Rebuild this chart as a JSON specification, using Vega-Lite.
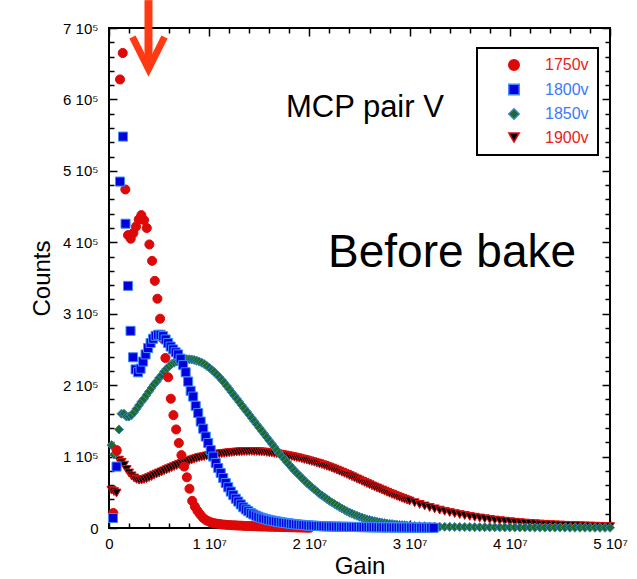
{
"$schema":"https://vega.github.io/schema/vega-lite/v6.json",
"width":501,"height":500,
"autosize":"none",
"padding":{"left":109,"top":28,"right":27,"bottom":51},
"background":"white",
"data":{"values":[
{"s":"1900v","g":0.25e6,"c":53e3},{"s":"1900v","g":0.5e6,"c":51e3},{"s":"1900v","g":0.75e6,"c":49e3},{"s":"1900v","g":1e6,"c":95e3},{"s":"1900v","g":1.25e6,"c":92e3},{"s":"1900v","g":1.5e6,"c":88e3},{"s":"1900v","g":1.75e6,"c":82e3},{"s":"1900v","g":2e6,"c":77e3},{"s":"1900v","g":2.25e6,"c":73e3},{"s":"1900v","g":2.5e6,"c":70e3},{"s":"1900v","g":2.75e6,"c":68e3},{"s":"1900v","g":3e6,"c":67e3},{"s":"1900v","g":3.25e6,"c":67e3},{"s":"1900v","g":3.5e6,"c":68e3},{"s":"1900v","g":3.75e6,"c":69e3},{"s":"1900v","g":4e6,"c":70.5e3},{"s":"1900v","g":4.25e6,"c":72e3},{"s":"1900v","g":4.5e6,"c":74e3},{"s":"1900v","g":4.75e6,"c":75.5e3},{"s":"1900v","g":5e6,"c":77e3},{"s":"1900v","g":5.25e6,"c":78.5e3},{"s":"1900v","g":5.5e6,"c":80e3},{"s":"1900v","g":5.75e6,"c":81.5e3},{"s":"1900v","g":6e6,"c":83e3},{"s":"1900v","g":6.25e6,"c":84.5e3},{"s":"1900v","g":6.5e6,"c":86e3},{"s":"1900v","g":6.75e6,"c":87.5e3},{"s":"1900v","g":7e6,"c":89e3},{"s":"1900v","g":7.25e6,"c":90.3e3},{"s":"1900v","g":7.5e6,"c":91.5e3},{"s":"1900v","g":7.75e6,"c":92.7e3},{"s":"1900v","g":8e6,"c":94e3},{"s":"1900v","g":8.25e6,"c":95.2e3},{"s":"1900v","g":8.5e6,"c":96.4e3},{"s":"1900v","g":8.75e6,"c":97.5e3},{"s":"1900v","g":9e6,"c":98.5e3},{"s":"1900v","g":9.25e6,"c":99.3e3},{"s":"1900v","g":9.5e6,"c":100e3},{"s":"1900v","g":9.75e6,"c":100.8e3},{"s":"1900v","g":10e6,"c":101.5e3},{"s":"1900v","g":10.25e6,"c":102.1e3},{"s":"1900v","g":10.5e6,"c":102.7e3},{"s":"1900v","g":10.75e6,"c":103.2e3},{"s":"1900v","g":11e6,"c":103.7e3},{"s":"1900v","g":11.25e6,"c":104.1e3},{"s":"1900v","g":11.5e6,"c":104.5e3},{"s":"1900v","g":11.75e6,"c":104.9e3},{"s":"1900v","g":12e6,"c":105.3e3},{"s":"1900v","g":12.25e6,"c":105.7e3},{"s":"1900v","g":12.5e6,"c":106e3},{"s":"1900v","g":12.75e6,"c":106.3e3},{"s":"1900v","g":13e6,"c":106.6e3},{"s":"1900v","g":13.25e6,"c":106.8e3},{"s":"1900v","g":13.5e6,"c":107e3},{"s":"1900v","g":13.75e6,"c":107.1e3},{"s":"1900v","g":14e6,"c":107.2e3},{"s":"1900v","g":14.25e6,"c":107.2e3},{"s":"1900v","g":14.5e6,"c":107.1e3},{"s":"1900v","g":14.75e6,"c":107e3},{"s":"1900v","g":15e6,"c":106.8e3},{"s":"1900v","g":15.25e6,"c":106.5e3},{"s":"1900v","g":15.5e6,"c":106.2e3},{"s":"1900v","g":15.75e6,"c":105.8e3},{"s":"1900v","g":16e6,"c":105.4e3},{"s":"1900v","g":16.25e6,"c":105e3},{"s":"1900v","g":16.5e6,"c":104.5e3},{"s":"1900v","g":16.75e6,"c":104e3},{"s":"1900v","g":17e6,"c":103.4e3},{"s":"1900v","g":17.25e6,"c":102.8e3},{"s":"1900v","g":17.5e6,"c":102.2e3},{"s":"1900v","g":17.75e6,"c":101.5e3},{"s":"1900v","g":18e6,"c":100.8e3},{"s":"1900v","g":18.25e6,"c":100.1e3},{"s":"1900v","g":18.5e6,"c":99.3e3},{"s":"1900v","g":18.75e6,"c":98.5e3},{"s":"1900v","g":19e6,"c":97.7e3},{"s":"1900v","g":19.25e6,"c":96.8e3},{"s":"1900v","g":19.5e6,"c":95.9e3},{"s":"1900v","g":19.75e6,"c":95e3},{"s":"1900v","g":20e6,"c":94e3},{"s":"1900v","g":20.25e6,"c":93e3},{"s":"1900v","g":20.5e6,"c":92e3},{"s":"1900v","g":20.75e6,"c":91e3},{"s":"1900v","g":21e6,"c":89.9e3},{"s":"1900v","g":21.25e6,"c":88.8e3},{"s":"1900v","g":21.5e6,"c":87.6e3},{"s":"1900v","g":21.75e6,"c":86.4e3},{"s":"1900v","g":22e6,"c":85.1e3},{"s":"1900v","g":22.25e6,"c":83.8e3},{"s":"1900v","g":22.5e6,"c":82.4e3},{"s":"1900v","g":22.75e6,"c":81e3},{"s":"1900v","g":23e6,"c":79.5e3},{"s":"1900v","g":23.25e6,"c":78e3},{"s":"1900v","g":23.5e6,"c":76.5e3},{"s":"1900v","g":23.75e6,"c":75e3},{"s":"1900v","g":24e6,"c":73.4e3},{"s":"1900v","g":24.25e6,"c":71.8e3},{"s":"1900v","g":24.5e6,"c":70.2e3},{"s":"1900v","g":24.75e6,"c":68.6e3},{"s":"1900v","g":25e6,"c":67e3},{"s":"1900v","g":25.25e6,"c":65.4e3},{"s":"1900v","g":25.5e6,"c":63.8e3},{"s":"1900v","g":25.75e6,"c":62.2e3},{"s":"1900v","g":26e6,"c":60.6e3},{"s":"1900v","g":26.25e6,"c":59e3},{"s":"1900v","g":26.5e6,"c":57.5e3},{"s":"1900v","g":26.75e6,"c":56e3},{"s":"1900v","g":27e6,"c":54.5e3},{"s":"1900v","g":27.25e6,"c":53e3},{"s":"1900v","g":27.5e6,"c":51.5e3},{"s":"1900v","g":27.75e6,"c":50e3},{"s":"1900v","g":28e6,"c":48.5e3},{"s":"1900v","g":28.25e6,"c":47.1e3},{"s":"1900v","g":28.5e6,"c":45.7e3},{"s":"1900v","g":28.75e6,"c":44.3e3},{"s":"1900v","g":29e6,"c":42.9e3},{"s":"1900v","g":29.25e6,"c":41.6e3},{"s":"1900v","g":29.5e6,"c":40.3e3},{"s":"1900v","g":29.75e6,"c":39e3},{"s":"1900v","g":30e6,"c":37.7e3},{"s":"1900v","g":30.5e6,"c":35.3e3},{"s":"1900v","g":31e6,"c":33e3},{"s":"1900v","g":31.5e6,"c":30.8e3},{"s":"1900v","g":32e6,"c":28.7e3},{"s":"1900v","g":32.5e6,"c":26.8e3},{"s":"1900v","g":33e6,"c":25e3},{"s":"1900v","g":33.5e6,"c":23.3e3},{"s":"1900v","g":34e6,"c":21.7e3},{"s":"1900v","g":34.5e6,"c":20.2e3},{"s":"1900v","g":35e6,"c":18.8e3},{"s":"1900v","g":35.5e6,"c":17.5e3},{"s":"1900v","g":36e6,"c":16.3e3},{"s":"1900v","g":36.5e6,"c":15.1e3},{"s":"1900v","g":37e6,"c":14e3},{"s":"1900v","g":37.5e6,"c":13e3},{"s":"1900v","g":38e6,"c":12e3},{"s":"1900v","g":38.5e6,"c":11.1e3},{"s":"1900v","g":39e6,"c":10.3e3},{"s":"1900v","g":39.5e6,"c":9.5e3},{"s":"1900v","g":40e6,"c":8.8e3},{"s":"1900v","g":40.5e6,"c":8.1e3},{"s":"1900v","g":41e6,"c":7.5e3},{"s":"1900v","g":41.5e6,"c":6.9e3},{"s":"1900v","g":42e6,"c":6.4e3},{"s":"1900v","g":42.5e6,"c":5.9e3},{"s":"1900v","g":43e6,"c":5.5e3},{"s":"1900v","g":43.5e6,"c":5.1e3},{"s":"1900v","g":44e6,"c":4.7e3},{"s":"1900v","g":44.5e6,"c":4.4e3},{"s":"1900v","g":45e6,"c":4.1e3},{"s":"1900v","g":45.5e6,"c":3.8e3},{"s":"1900v","g":46e6,"c":3.5e3},{"s":"1900v","g":46.5e6,"c":3.3e3},{"s":"1900v","g":47e6,"c":3.1e3},{"s":"1900v","g":47.5e6,"c":2.9e3},{"s":"1900v","g":48e6,"c":2.7e3},{"s":"1900v","g":48.5e6,"c":2.5e3},{"s":"1900v","g":49e6,"c":2.3e3},{"s":"1900v","g":49.5e6,"c":2.1e3},{"s":"1900v","g":50e6,"c":2e3},
{"s":"1850v","g":0.25e6,"c":116e3},{"s":"1850v","g":0.5e6,"c":103e3},{"s":"1850v","g":0.75e6,"c":105e3},{"s":"1850v","g":1e6,"c":138e3},{"s":"1850v","g":1.25e6,"c":160e3},{"s":"1850v","g":1.5e6,"c":160e3},{"s":"1850v","g":1.75e6,"c":156e3},{"s":"1850v","g":2e6,"c":156e3},{"s":"1850v","g":2.25e6,"c":158e3},{"s":"1850v","g":2.5e6,"c":162e3},{"s":"1850v","g":2.75e6,"c":167e3},{"s":"1850v","g":3e6,"c":172e3},{"s":"1850v","g":3.25e6,"c":177e3},{"s":"1850v","g":3.5e6,"c":181e3},{"s":"1850v","g":3.75e6,"c":186e3},{"s":"1850v","g":4e6,"c":191e3},{"s":"1850v","g":4.25e6,"c":196e3},{"s":"1850v","g":4.5e6,"c":201e3},{"s":"1850v","g":4.75e6,"c":205e3},{"s":"1850v","g":5e6,"c":210e3},{"s":"1850v","g":5.25e6,"c":214e3},{"s":"1850v","g":5.5e6,"c":219e3},{"s":"1850v","g":5.75e6,"c":223e3},{"s":"1850v","g":6e6,"c":226.5e3},{"s":"1850v","g":6.25e6,"c":229.5e3},{"s":"1850v","g":6.5e6,"c":231.5e3},{"s":"1850v","g":6.75e6,"c":233e3},{"s":"1850v","g":7e6,"c":234.5e3},{"s":"1850v","g":7.25e6,"c":235.5e3},{"s":"1850v","g":7.5e6,"c":236e3},{"s":"1850v","g":7.75e6,"c":236.3e3},{"s":"1850v","g":8e6,"c":236.3e3},{"s":"1850v","g":8.25e6,"c":236e3},{"s":"1850v","g":8.5e6,"c":235.3e3},{"s":"1850v","g":8.75e6,"c":234.3e3},{"s":"1850v","g":9e6,"c":233e3},{"s":"1850v","g":9.25e6,"c":231.5e3},{"s":"1850v","g":9.5e6,"c":229.5e3},{"s":"1850v","g":9.75e6,"c":227e3},{"s":"1850v","g":10e6,"c":224.5e3},{"s":"1850v","g":10.25e6,"c":221.5e3},{"s":"1850v","g":10.5e6,"c":218.5e3},{"s":"1850v","g":10.75e6,"c":215e3},{"s":"1850v","g":11e6,"c":211.5e3},{"s":"1850v","g":11.25e6,"c":207.5e3},{"s":"1850v","g":11.5e6,"c":203.5e3},{"s":"1850v","g":11.75e6,"c":199e3},{"s":"1850v","g":12e6,"c":194.5e3},{"s":"1850v","g":12.25e6,"c":190e3},{"s":"1850v","g":12.5e6,"c":185.5e3},{"s":"1850v","g":12.75e6,"c":181e3},{"s":"1850v","g":13e6,"c":176.5e3},{"s":"1850v","g":13.25e6,"c":172e3},{"s":"1850v","g":13.5e6,"c":167.5e3},{"s":"1850v","g":13.75e6,"c":163e3},{"s":"1850v","g":14e6,"c":158.5e3},{"s":"1850v","g":14.25e6,"c":154e3},{"s":"1850v","g":14.5e6,"c":149.5e3},{"s":"1850v","g":14.75e6,"c":145e3},{"s":"1850v","g":15e6,"c":140.5e3},{"s":"1850v","g":15.25e6,"c":136e3},{"s":"1850v","g":15.5e6,"c":131.5e3},{"s":"1850v","g":15.75e6,"c":127e3},{"s":"1850v","g":16e6,"c":122.5e3},{"s":"1850v","g":16.25e6,"c":118e3},{"s":"1850v","g":16.5e6,"c":113.5e3},{"s":"1850v","g":16.75e6,"c":109e3},{"s":"1850v","g":17e6,"c":104.5e3},{"s":"1850v","g":17.25e6,"c":100.5e3},{"s":"1850v","g":17.5e6,"c":96.5e3},{"s":"1850v","g":17.75e6,"c":92.5e3},{"s":"1850v","g":18e6,"c":88.5e3},{"s":"1850v","g":18.25e6,"c":84.5e3},{"s":"1850v","g":18.5e6,"c":80.5e3},{"s":"1850v","g":18.75e6,"c":77e3},{"s":"1850v","g":19e6,"c":73.5e3},{"s":"1850v","g":19.25e6,"c":70e3},{"s":"1850v","g":19.5e6,"c":66.5e3},{"s":"1850v","g":19.75e6,"c":63e3},{"s":"1850v","g":20e6,"c":60e3},{"s":"1850v","g":20.25e6,"c":57e3},{"s":"1850v","g":20.5e6,"c":54e3},{"s":"1850v","g":20.75e6,"c":51e3},{"s":"1850v","g":21e6,"c":48e3},{"s":"1850v","g":21.25e6,"c":45.5e3},{"s":"1850v","g":21.5e6,"c":43e3},{"s":"1850v","g":21.75e6,"c":40.5e3},{"s":"1850v","g":22e6,"c":38e3},{"s":"1850v","g":22.25e6,"c":35.8e3},{"s":"1850v","g":22.5e6,"c":33.6e3},{"s":"1850v","g":22.75e6,"c":31.4e3},{"s":"1850v","g":23e6,"c":29.3e3},{"s":"1850v","g":23.25e6,"c":27.3e3},{"s":"1850v","g":23.5e6,"c":25.3e3},{"s":"1850v","g":23.75e6,"c":23.5e3},{"s":"1850v","g":24e6,"c":21.7e3},{"s":"1850v","g":24.25e6,"c":20.1e3},{"s":"1850v","g":24.5e6,"c":18.5e3},{"s":"1850v","g":24.75e6,"c":17.1e3},{"s":"1850v","g":25e6,"c":15.7e3},{"s":"1850v","g":25.25e6,"c":14.5e3},{"s":"1850v","g":25.5e6,"c":13.3e3},{"s":"1850v","g":25.75e6,"c":12.2e3},{"s":"1850v","g":26e6,"c":11.2e3},{"s":"1850v","g":26.25e6,"c":10.3e3},{"s":"1850v","g":26.5e6,"c":9.5e3},{"s":"1850v","g":26.75e6,"c":8.7e3},{"s":"1850v","g":27e6,"c":8e3},{"s":"1850v","g":27.25e6,"c":7.4e3},{"s":"1850v","g":27.5e6,"c":6.8e3},{"s":"1850v","g":27.75e6,"c":6.3e3},{"s":"1850v","g":28e6,"c":5.8e3},{"s":"1850v","g":28.25e6,"c":5.4e3},{"s":"1850v","g":28.5e6,"c":5e3},{"s":"1850v","g":28.75e6,"c":4.6e3},{"s":"1850v","g":29e6,"c":4.3e3},{"s":"1850v","g":29.25e6,"c":4e3},{"s":"1850v","g":29.5e6,"c":3.7e3},{"s":"1850v","g":29.75e6,"c":3.5e3},{"s":"1850v","g":30e6,"c":3.2e3},{"s":"1850v","g":30.5e6,"c":2.9e3},{"s":"1850v","g":31e6,"c":2.6e3},{"s":"1850v","g":31.5e6,"c":2.3e3},{"s":"1850v","g":32e6,"c":2.1e3},{"s":"1850v","g":32.5e6,"c":1.9e3},{"s":"1850v","g":33e6,"c":1.8e3},{"s":"1850v","g":33.5e6,"c":1.7e3},{"s":"1850v","g":34e6,"c":1.6e3},{"s":"1850v","g":34.5e6,"c":1.5e3},{"s":"1850v","g":35e6,"c":1.4e3},{"s":"1850v","g":35.5e6,"c":1.3e3},{"s":"1850v","g":36e6,"c":1.25e3},{"s":"1850v","g":36.5e6,"c":1.2e3},{"s":"1850v","g":37e6,"c":1.15e3},{"s":"1850v","g":37.5e6,"c":1.1e3},{"s":"1850v","g":38e6,"c":1.05e3},{"s":"1850v","g":38.5e6,"c":1e3},{"s":"1850v","g":39e6,"c":950},{"s":"1850v","g":39.5e6,"c":900},{"s":"1850v","g":40e6,"c":900},{"s":"1850v","g":40.5e6,"c":850},{"s":"1850v","g":41e6,"c":800},{"s":"1850v","g":41.5e6,"c":800},{"s":"1850v","g":42e6,"c":750},{"s":"1850v","g":42.5e6,"c":700},{"s":"1850v","g":43e6,"c":700},{"s":"1850v","g":43.5e6,"c":650},{"s":"1850v","g":44e6,"c":650},{"s":"1850v","g":44.5e6,"c":600},{"s":"1850v","g":45e6,"c":600},{"s":"1850v","g":45.5e6,"c":550},{"s":"1850v","g":46e6,"c":550},{"s":"1850v","g":46.5e6,"c":500},{"s":"1850v","g":47e6,"c":500},{"s":"1850v","g":47.5e6,"c":500},{"s":"1850v","g":48e6,"c":450},{"s":"1850v","g":48.5e6,"c":450},{"s":"1850v","g":49e6,"c":400},{"s":"1850v","g":49.5e6,"c":400},{"s":"1850v","g":50e6,"c":400},
{"s":"1750v","g":0.43e6,"c":21e3},{"s":"1750v","g":0.77e6,"c":109e3},{"s":"1750v","g":1.1e6,"c":628e3},{"s":"1750v","g":1.37e6,"c":665e3},{"s":"1750v","g":1.63e6,"c":474e3},{"s":"1750v","g":1.9e6,"c":410e3},{"s":"1750v","g":2.17e6,"c":405e3},{"s":"1750v","g":2.43e6,"c":413e3},{"s":"1750v","g":2.7e6,"c":422e3},{"s":"1750v","g":2.97e6,"c":432e3},{"s":"1750v","g":3.23e6,"c":438e3},{"s":"1750v","g":3.5e6,"c":431e3},{"s":"1750v","g":3.77e6,"c":420e3},{"s":"1750v","g":4.03e6,"c":397e3},{"s":"1750v","g":4.3e6,"c":374e3},{"s":"1750v","g":4.57e6,"c":346e3},{"s":"1750v","g":4.83e6,"c":321e3},{"s":"1750v","g":5.1e6,"c":293e3},{"s":"1750v","g":5.37e6,"c":265e3},{"s":"1750v","g":5.63e6,"c":238e3},{"s":"1750v","g":5.9e6,"c":211e3},{"s":"1750v","g":6.17e6,"c":181e3},{"s":"1750v","g":6.43e6,"c":158e3},{"s":"1750v","g":6.7e6,"c":138e3},{"s":"1750v","g":6.97e6,"c":119e3},{"s":"1750v","g":7.23e6,"c":102e3},{"s":"1750v","g":7.5e6,"c":86e3},{"s":"1750v","g":7.77e6,"c":71e3},{"s":"1750v","g":8.03e6,"c":55e3},{"s":"1750v","g":8.3e6,"c":38e3},{"s":"1750v","g":8.57e6,"c":30e3},{"s":"1750v","g":8.83e6,"c":24e3},{"s":"1750v","g":9.1e6,"c":19e3},{"s":"1750v","g":9.37e6,"c":14.5e3},{"s":"1750v","g":9.63e6,"c":11.5e3},{"s":"1750v","g":9.9e6,"c":9.5e3},{"s":"1750v","g":10.17e6,"c":8e3},{"s":"1750v","g":10.43e6,"c":7e3},{"s":"1750v","g":10.7e6,"c":6.2e3},{"s":"1750v","g":10.97e6,"c":5.6e3},{"s":"1750v","g":11.23e6,"c":5.1e3},{"s":"1750v","g":11.5e6,"c":4.7e3},{"s":"1750v","g":11.77e6,"c":4.4e3},{"s":"1750v","g":12.03e6,"c":4.1e3},{"s":"1750v","g":12.3e6,"c":3.9e3},{"s":"1750v","g":12.57e6,"c":3.7e3},{"s":"1750v","g":12.83e6,"c":3.5e3},{"s":"1750v","g":13.1e6,"c":3.3e3},{"s":"1750v","g":13.37e6,"c":3.1e3},{"s":"1750v","g":13.63e6,"c":2.9e3},{"s":"1750v","g":13.9e6,"c":2.8e3},{"s":"1750v","g":14.17e6,"c":2.6e3},{"s":"1750v","g":14.43e6,"c":2.5e3},{"s":"1750v","g":14.7e6,"c":2.4e3},{"s":"1750v","g":14.97e6,"c":2.2e3},{"s":"1750v","g":15.23e6,"c":2.1e3},{"s":"1750v","g":15.5e6,"c":2e3},{"s":"1750v","g":15.77e6,"c":1.9e3},{"s":"1750v","g":16.03e6,"c":1.8e3},{"s":"1750v","g":16.3e6,"c":1.7e3},{"s":"1750v","g":16.57e6,"c":1.6e3},{"s":"1750v","g":16.83e6,"c":1.5e3},{"s":"1750v","g":17.1e6,"c":1.4e3},{"s":"1750v","g":17.37e6,"c":1.3e3},{"s":"1750v","g":17.63e6,"c":1.2e3},{"s":"1750v","g":17.9e6,"c":1.1e3},{"s":"1750v","g":18.17e6,"c":1e3},{"s":"1750v","g":18.43e6,"c":900},{"s":"1750v","g":18.7e6,"c":800},{"s":"1750v","g":18.97e6,"c":700},{"s":"1750v","g":19.23e6,"c":600},{"s":"1750v","g":19.5e6,"c":500},{"s":"1750v","g":19.77e6,"c":400},{"s":"1750v","g":20.03e6,"c":300},
{"s":"1800v","g":0.4e6,"c":14e3},{"s":"1800v","g":0.75e6,"c":86e3},{"s":"1800v","g":1.1e6,"c":485e3},{"s":"1800v","g":1.4e6,"c":548e3},{"s":"1800v","g":1.65e6,"c":426e3},{"s":"1800v","g":1.9e6,"c":339e3},{"s":"1800v","g":2.15e6,"c":276e3},{"s":"1800v","g":2.4e6,"c":239e3},{"s":"1800v","g":2.65e6,"c":222e3},{"s":"1800v","g":2.9e6,"c":218e3},{"s":"1800v","g":3.15e6,"c":223e3},{"s":"1800v","g":3.4e6,"c":233e3},{"s":"1800v","g":3.65e6,"c":243e3},{"s":"1800v","g":3.9e6,"c":252e3},{"s":"1800v","g":4.15e6,"c":259e3},{"s":"1800v","g":4.4e6,"c":265e3},{"s":"1800v","g":4.65e6,"c":269e3},{"s":"1800v","g":4.9e6,"c":270.5e3},{"s":"1800v","g":5.15e6,"c":270.5e3},{"s":"1800v","g":5.4e6,"c":268.5e3},{"s":"1800v","g":5.65e6,"c":264e3},{"s":"1800v","g":5.9e6,"c":259e3},{"s":"1800v","g":6.15e6,"c":254e3},{"s":"1800v","g":6.4e6,"c":250e3},{"s":"1800v","g":6.65e6,"c":246e3},{"s":"1800v","g":6.9e6,"c":243e3},{"s":"1800v","g":7.15e6,"c":237e3},{"s":"1800v","g":7.4e6,"c":228e3},{"s":"1800v","g":7.65e6,"c":218e3},{"s":"1800v","g":7.9e6,"c":205e3},{"s":"1800v","g":8.15e6,"c":192e3},{"s":"1800v","g":8.4e6,"c":184e3},{"s":"1800v","g":8.65e6,"c":171e3},{"s":"1800v","g":8.9e6,"c":161e3},{"s":"1800v","g":9.15e6,"c":149e3},{"s":"1800v","g":9.4e6,"c":139e3},{"s":"1800v","g":9.65e6,"c":128e3},{"s":"1800v","g":9.9e6,"c":119e3},{"s":"1800v","g":10.15e6,"c":109e3},{"s":"1800v","g":10.4e6,"c":100e3},{"s":"1800v","g":10.65e6,"c":91e3},{"s":"1800v","g":10.9e6,"c":84e3},{"s":"1800v","g":11.15e6,"c":77e3},{"s":"1800v","g":11.4e6,"c":70e3},{"s":"1800v","g":11.65e6,"c":63e3},{"s":"1800v","g":11.9e6,"c":57e3},{"s":"1800v","g":12.15e6,"c":51e3},{"s":"1800v","g":12.4e6,"c":46e3},{"s":"1800v","g":12.65e6,"c":41e3},{"s":"1800v","g":12.9e6,"c":37e3},{"s":"1800v","g":13.15e6,"c":33e3},{"s":"1800v","g":13.4e6,"c":29e3},{"s":"1800v","g":13.65e6,"c":26e3},{"s":"1800v","g":13.9e6,"c":23.5e3},{"s":"1800v","g":14.15e6,"c":21e3},{"s":"1800v","g":14.4e6,"c":19e3},{"s":"1800v","g":14.65e6,"c":17.3e3},{"s":"1800v","g":14.9e6,"c":15.8e3},{"s":"1800v","g":15.15e6,"c":14.5e3},{"s":"1800v","g":15.4e6,"c":13.4e3},{"s":"1800v","g":15.65e6,"c":12.4e3},{"s":"1800v","g":15.9e6,"c":11.5e3},{"s":"1800v","g":16.15e6,"c":10.7e3},{"s":"1800v","g":16.4e6,"c":10e3},{"s":"1800v","g":16.65e6,"c":9.3e3},{"s":"1800v","g":16.9e6,"c":8.7e3},{"s":"1800v","g":17.15e6,"c":8.1e3},{"s":"1800v","g":17.4e6,"c":7.5e3},{"s":"1800v","g":17.65e6,"c":7e3},{"s":"1800v","g":17.9e6,"c":6.5e3},{"s":"1800v","g":18.15e6,"c":6e3},{"s":"1800v","g":18.4e6,"c":5.6e3},{"s":"1800v","g":18.65e6,"c":5.2e3},{"s":"1800v","g":18.9e6,"c":4.8e3},{"s":"1800v","g":19.15e6,"c":4.5e3},{"s":"1800v","g":19.4e6,"c":4.2e3},{"s":"1800v","g":19.65e6,"c":3.9e3},{"s":"1800v","g":19.9e6,"c":3.6e3},{"s":"1800v","g":20.15e6,"c":3.4e3},{"s":"1800v","g":20.4e6,"c":3.2e3},{"s":"1800v","g":20.65e6,"c":3e3},{"s":"1800v","g":20.9e6,"c":2.8e3},{"s":"1800v","g":21.15e6,"c":2.6e3},{"s":"1800v","g":21.4e6,"c":2.5e3},{"s":"1800v","g":21.65e6,"c":2.3e3},{"s":"1800v","g":21.9e6,"c":2.2e3},{"s":"1800v","g":22.15e6,"c":2.1e3},{"s":"1800v","g":22.4e6,"c":2e3},{"s":"1800v","g":22.65e6,"c":1.9e3},{"s":"1800v","g":22.9e6,"c":1.8e3},{"s":"1800v","g":23.15e6,"c":1.7e3},{"s":"1800v","g":23.4e6,"c":1.65e3},{"s":"1800v","g":23.65e6,"c":1.6e3},{"s":"1800v","g":23.9e6,"c":1.55e3},{"s":"1800v","g":24.15e6,"c":1.5e3},{"s":"1800v","g":24.4e6,"c":1.45e3},{"s":"1800v","g":24.65e6,"c":1.4e3},{"s":"1800v","g":24.9e6,"c":1.35e3},{"s":"1800v","g":25.15e6,"c":1.3e3},{"s":"1800v","g":25.4e6,"c":1.25e3},{"s":"1800v","g":25.65e6,"c":1.2e3},{"s":"1800v","g":25.9e6,"c":1.15e3},{"s":"1800v","g":26.15e6,"c":1.1e3},{"s":"1800v","g":26.4e6,"c":1.05e3},{"s":"1800v","g":26.65e6,"c":1e3},{"s":"1800v","g":26.9e6,"c":950},{"s":"1800v","g":27.15e6,"c":900},{"s":"1800v","g":27.4e6,"c":850},{"s":"1800v","g":27.65e6,"c":800},{"s":"1800v","g":27.9e6,"c":780},{"s":"1800v","g":28.15e6,"c":750},{"s":"1800v","g":28.4e6,"c":720},{"s":"1800v","g":28.65e6,"c":700},{"s":"1800v","g":28.9e6,"c":680},{"s":"1800v","g":29.15e6,"c":650},{"s":"1800v","g":29.4e6,"c":620},{"s":"1800v","g":29.65e6,"c":600},{"s":"1800v","g":29.9e6,"c":580},{"s":"1800v","g":30.15e6,"c":550},{"s":"1800v","g":30.4e6,"c":520},{"s":"1800v","g":30.65e6,"c":500},{"s":"1800v","g":30.9e6,"c":480},{"s":"1800v","g":31.15e6,"c":450},{"s":"1800v","g":31.4e6,"c":420},{"s":"1800v","g":31.65e6,"c":400},{"s":"1800v","g":31.9e6,"c":380},{"s":"1800v","g":32.15e6,"c":350},{"s":"1800v","g":32.4e6,"c":320}
]},
"resolve":{"axis":{"x":"independent","y":"independent"}},
"layer":[
{
 "mark":{"type":"point","filled":true,"opacity":1,"size":82,"strokeWidth":1},
 "encoding":{
  "x":{"field":"g","type":"quantitative","scale":{"domain":[0,50000000],"nice":false,"zero":false},
       "axis":{"orient":"bottom","values":[0,10000000,20000000,30000000,40000000,50000000],"offset":-8,"tickSize":8,"labelPadding":8,"labelFontSize":15,
               "labelExpr":"datum.value == 0 ? '0' : (datum.value/1e7) + ' 10⁷'","title":"Gain","titleFontSize":24,"titlePadding":3}},
  "y":{"field":"c","type":"quantitative","scale":{"domain":[0,700000],"nice":false,"zero":false},
       "axis":{"orient":"left","values":[0,100000,200000,300000,400000,500000,600000,700000],"offset":-8,"tickSize":8,"labelPadding":11,"labelFontSize":15,
               "labelExpr":"datum.value == 0 ? '0' : (datum.value/1e5) + ' 10⁵'","title":"Counts","titleFontSize":24,"titlePadding":8}},
  "fill":{"field":"s","type":"nominal","scale":{"domain":["1750v","1800v","1850v","1900v"],"range":["#dd0808","#0000dd","#1b6a30","#000000"]},
          "legend":{"title":null,"orient":"none","legendX":368,"legendY":20}},
  "stroke":{"field":"s","type":"nominal","scale":{"domain":["1750v","1800v","1850v","1900v"],"range":["#dd0808","#3f8cff","#3a84c0","#e01010"]},
          "legend":{"title":null,"orient":"none","legendX":368,"legendY":20}},
  "shape":{"field":"s","type":"nominal","scale":{"domain":["1750v","1800v","1850v","1900v"],"range":["circle","square","diamond","triangle-down"]},
          "legend":{"title":null,"orient":"none","legendX":368,"legendY":20}}
 }
},
{
 "data":{"values":[{}]},
 "mark":{"type":"text","font":"Liberation Sans","fontSize":31,"align":"left","baseline":"alphabetic","color":"black"},
 "encoding":{
  "x":{"datum":17660000,"type":"quantitative","scale":{"domain":[0,50000000],"nice":false,"zero":false},
       "axis":{"orient":"top","values":[0,10000000,20000000,30000000,40000000,50000000],"offset":-8,"tickSize":8,"labels":false,"title":null}},
  "y":{"datum":575400,"type":"quantitative","scale":{"domain":[0,700000],"nice":false,"zero":false},
       "axis":{"orient":"right","values":[0,100000,200000,300000,400000,500000,600000,700000],"offset":-8,"tickSize":8,"labels":false,"title":null}},
  "text":{"value":"MCP pair V"}
 }
},
{
 "data":{"values":[{}]},
 "mark":{"type":"text","font":"Liberation Sans","fontSize":46,"align":"left","baseline":"alphabetic","color":"black"},
 "encoding":{
  "x":{"datum":21860000,"type":"quantitative","scale":{"domain":[0,50000000],"nice":false,"zero":false},
       "axis":{"orient":"top","values":[2000000,4000000,6000000,8000000,12000000,14000000,16000000,18000000,22000000,24000000,26000000,28000000,32000000,34000000,36000000,38000000,42000000,44000000,46000000,48000000],"offset":-5,"tickSize":5,"labels":false,"title":null}},
  "y":{"datum":365400,"type":"quantitative","scale":{"domain":[0,700000],"nice":false,"zero":false},
       "axis":{"orient":"right","values":[20000,40000,60000,80000,120000,140000,160000,180000,220000,240000,260000,280000,320000,340000,360000,380000,420000,440000,460000,480000,520000,540000,560000,580000,620000,640000,660000,680000],"offset":-5,"tickSize":5,"labels":false,"title":null}},
  "text":{"value":"Before bake"}
 }
},
{
 "data":{"values":[{}]},
 "mark":{"type":"rule","color":"#ff3a12","strokeWidth":8},
 "encoding":{
  "x":{"datum":3940000,"type":"quantitative","scale":{"domain":[0,50000000],"nice":false,"zero":false},
       "axis":{"orient":"bottom","values":[2000000,4000000,6000000,8000000,12000000,14000000,16000000,18000000,22000000,24000000,26000000,28000000,32000000,34000000,36000000,38000000,42000000,44000000,46000000,48000000],"offset":-5,"tickSize":5,"labels":false,"title":null}},
  "y":{"datum":739000,"type":"quantitative","scale":{"domain":[0,700000],"nice":false,"zero":false},
       "axis":{"orient":"left","values":[20000,40000,60000,80000,120000,140000,160000,180000,220000,240000,260000,280000,320000,340000,360000,380000,420000,440000,460000,480000,520000,540000,560000,580000,620000,640000,660000,680000],"offset":-5,"tickSize":5,"labels":false,"title":null}},
  "y2":{"datum":650000}
 }
},
{
 "data":{"values":[{}]},
 "mark":{"type":"point","shape":"M-1,-1L0,1L1,-1","filled":false,"opacity":1,"stroke":"#ff3a12","strokeWidth":7,"size":1024,"strokeJoin":"miter"},
 "encoding":{
  "x":{"datum":3940000,"type":"quantitative","scale":{"domain":[0,50000000],"nice":false,"zero":false},"axis":null},
  "y":{"datum":665000,"type":"quantitative","scale":{"domain":[0,700000],"nice":false,"zero":false},"axis":null}
 }
}
],
"config":{
 "font":"Liberation Sans",
 "view":{"stroke":"black","strokeWidth":2},
 "axis":{"domain":false,"grid":false,"tickColor":"black","tickWidth":1.5,"labelFont":"Liberation Sans","titleFont":"Liberation Sans","labelColor":"black","titleColor":"black","titleFontWeight":"normal","labelFlush":false,"labelOverlap":false},
 "legend":{"padding":9,"strokeColor":"black","strokeWidth":2,"fillColor":"white","symbolOffset":20,"labelOffset":23,"rowPadding":6.5,"symbolSize":110,"symbolStrokeWidth":1.5,"labelFont":"Liberation Sans","labelFontSize":16,
   "labelColor":{"expr":"datum.value == '1750v' || datum.value == '1900v' ? '#e8221b' : '#3a78ff'"}}
}
}
